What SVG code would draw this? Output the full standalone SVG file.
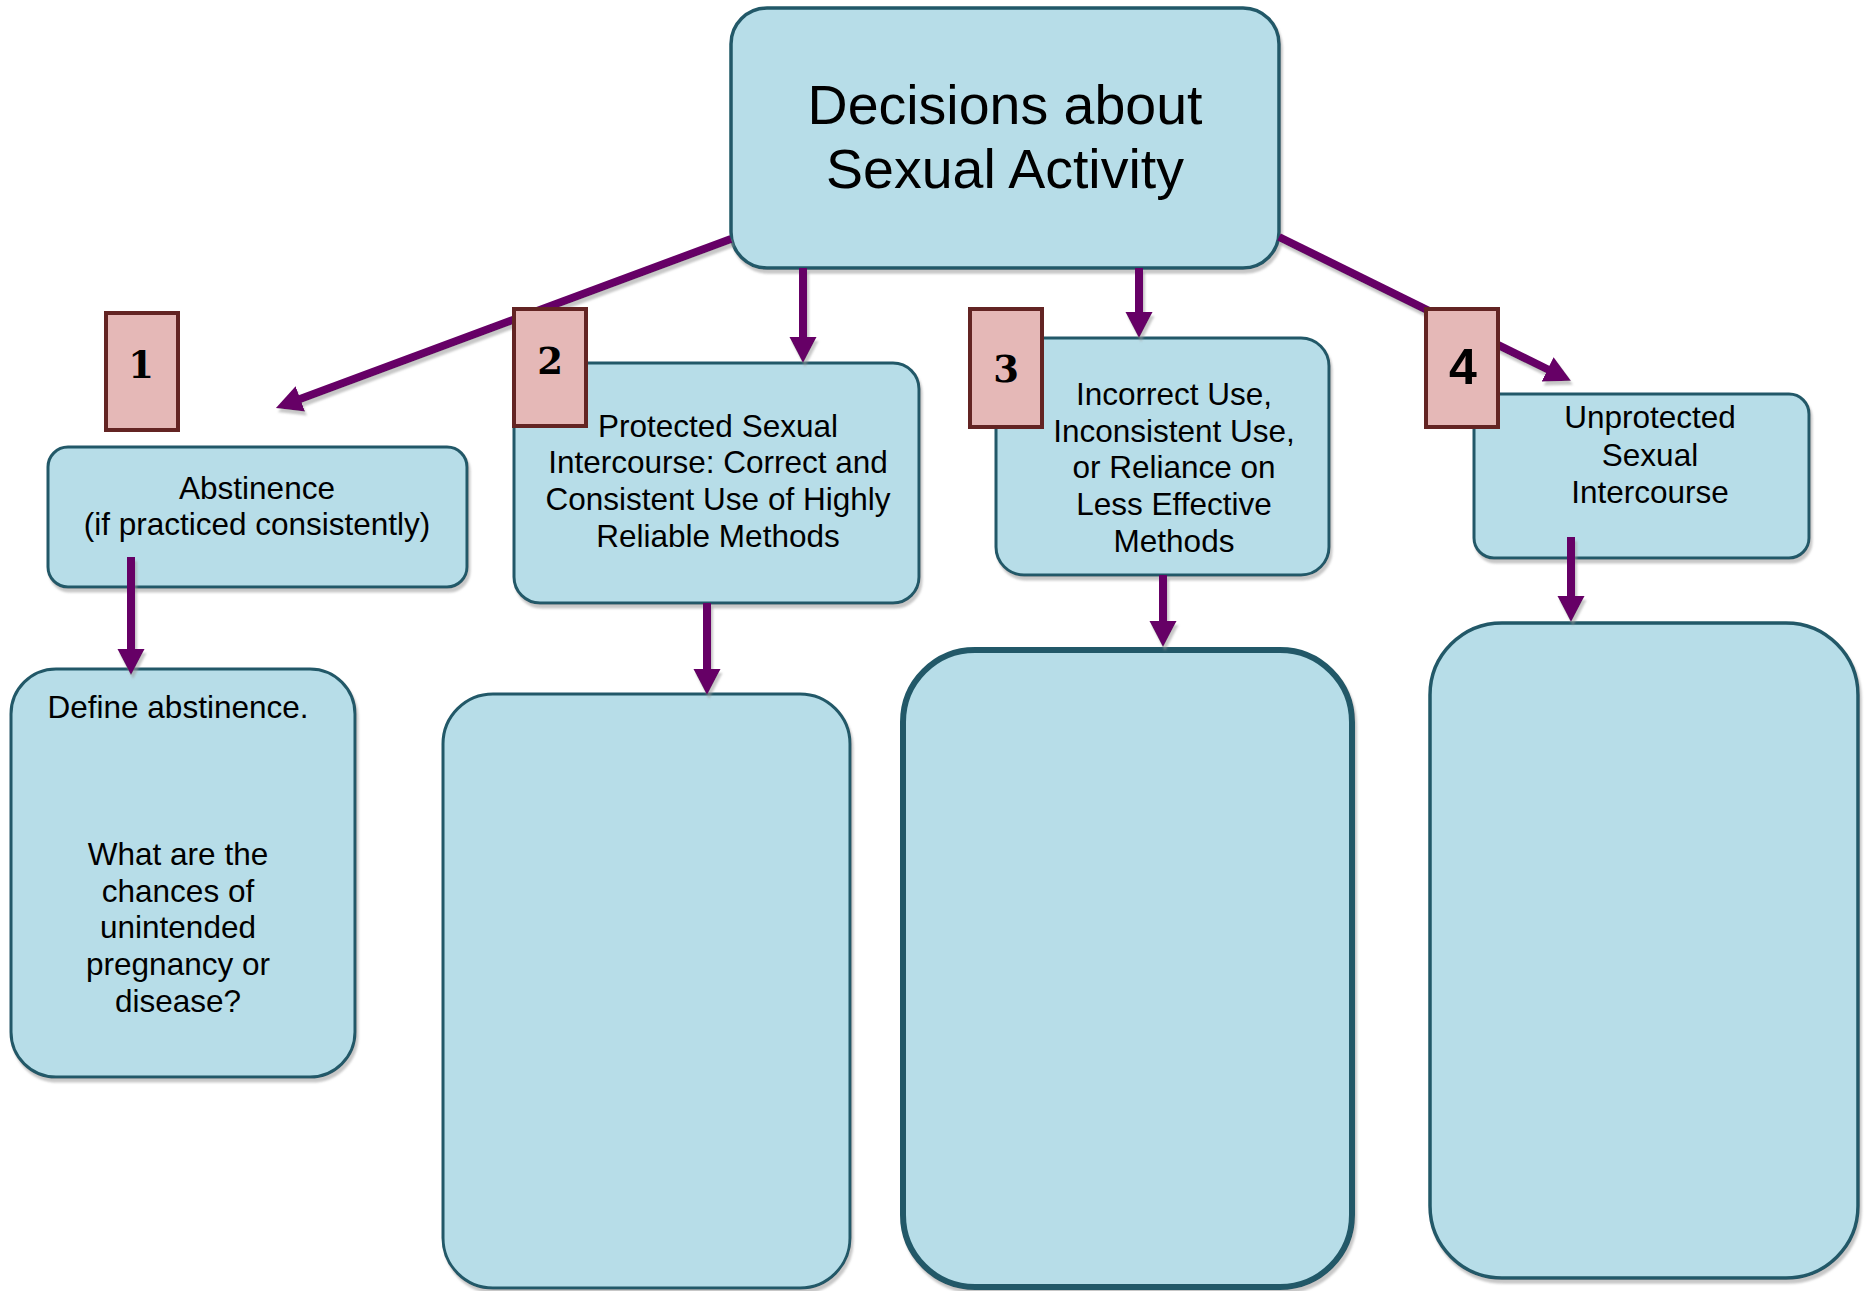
<svg xmlns="http://www.w3.org/2000/svg" width="1866" height="1291" viewBox="0 0 1866 1291">
<defs>
<filter id="sh" x="-5%" y="-5%" width="110%" height="115%">
<feDropShadow dx="2" dy="4" stdDeviation="0.8" flood-color="#9a9a9a" flood-opacity="0.55"/>
</filter>
<marker id="ah" markerUnits="userSpaceOnUse" markerWidth="28" markerHeight="28" refX="6" refY="13.5" orient="auto">
<path d="M0,0 L26,13.5 L0,27 Z" fill="#660066"/>
</marker>
</defs>
<style>
.box{fill:#b7dde8;stroke:#215968;stroke-width:3.5;filter:url(#sh)}
.badge{fill:#e5b8b7;stroke:#632423;stroke-width:4}
.t{font-family:"Liberation Sans",Arial,sans-serif;font-size:31.5px;fill:#000;text-anchor:middle}
.title{font-size:55.5px}
.num{font-family:"DejaVu Serif","Liberation Serif",serif;font-weight:bold;font-size:37px;fill:#000;text-anchor:middle}
.num4{font-family:"Liberation Sans",Arial,sans-serif;font-weight:bold;font-size:50px;fill:#000;text-anchor:middle}
.c{stroke:#660066;stroke-width:8;fill:none;marker-end:url(#ah)}
</style>
<rect width="1866" height="1291" fill="#ffffff"/>

<g id="main">
<rect class="box" x="731" y="8" width="548" height="260" rx="36"/>
<text class="t title" x="1005" y="124">Decisions about</text>
<text class="t title" x="1005" y="188">Sexual Activity</text>
</g>

<g id="abstinence">
<rect class="box" x="48" y="447" width="419" height="140" rx="20" style="stroke-width:3"/>
<text class="t" x="257" y="499">Abstinence</text>
<text class="t" x="257" y="535">(if practiced consistently)</text>
</g>

<g id="protected">
<rect class="box" x="514" y="363" width="405" height="240" rx="26" style="stroke-width:3"/>
<text class="t" x="718" y="437">Protected Sexual</text>
<text class="t" x="718" y="473">Intercourse: Correct and</text>
<text class="t" x="718" y="510">Consistent Use of Highly</text>
<text class="t" x="718" y="547">Reliable Methods</text>
</g>

<g id="incorrect">
<rect class="box" x="996" y="338" width="333" height="237" rx="28" style="stroke-width:3"/>
<text class="t" x="1174" y="405">Incorrect Use,</text>
<text class="t" x="1174" y="442">Inconsistent Use,</text>
<text class="t" x="1174" y="478">or Reliance on</text>
<text class="t" x="1174" y="515">Less Effective</text>
<text class="t" x="1174" y="552">Methods</text>
</g>

<g id="unprotected">
<rect class="box" x="1474" y="394" width="335" height="164" rx="20" style="stroke-width:3"/>
<text class="t" x="1650" y="428">Unprotected</text>
<text class="t" x="1650" y="466">Sexual</text>
<text class="t" x="1650" y="503">Intercourse</text>
</g>

<g id="define">
<rect class="box" x="11" y="669" width="344" height="408" rx="45" style="stroke-width:3"/>
<text class="t" x="178" y="718">Define abstinence.</text>
<text class="t" x="178" y="865">What are the</text>
<text class="t" x="178" y="902">chances of</text>
<text class="t" x="178" y="938">unintended</text>
<text class="t" x="178" y="975">pregnancy or</text>
<text class="t" x="178" y="1012">disease?</text>
</g>

<g id="blank2">
<rect class="box" x="443" y="694" width="407" height="594" rx="50" style="stroke-width:3"/>
</g>

<g id="blank3">
<rect class="box" x="903" y="650" width="449" height="637" rx="72" style="stroke-width:6"/>
</g>

<g id="blank4">
<rect class="box" x="1430" y="623" width="428" height="655" rx="72" style="stroke-width:3.5"/>
</g>

<g id="connectors" style="filter:url(#sh)">
<line class="c" x1="731" y1="239" x2="294.7" y2="401"/>
<line class="c" x1="803" y1="268" x2="803" y2="343"/>
<line class="c" x1="1139" y1="268" x2="1139" y2="318"/>
<line class="c" x1="1279" y1="237" x2="1553" y2="372"/>
<line class="c" x1="131" y1="557" x2="131" y2="655"/>
<line class="c" x1="707" y1="603" x2="707" y2="675"/>
<line class="c" x1="1163" y1="575" x2="1163" y2="627"/>
<line class="c" x1="1571" y1="537" x2="1571" y2="602"/>
</g>

<g id="badge1">
<rect class="badge" x="106" y="313" width="72" height="117"/>
<text class="num" x="141" y="378">1</text>
</g>
<g id="badge2">
<rect class="badge" x="514" y="309" width="72" height="117"/>
<text class="num" x="550" y="374">2</text>
</g>
<g id="badge3">
<rect class="badge" x="970" y="309" width="72" height="118"/>
<text class="num" x="1006" y="382">3</text>
</g>
<g id="badge4">
<rect class="badge" x="1426" y="309" width="72" height="118"/>
<text class="num4" x="1463" y="384">4</text>
</g>
</svg>
